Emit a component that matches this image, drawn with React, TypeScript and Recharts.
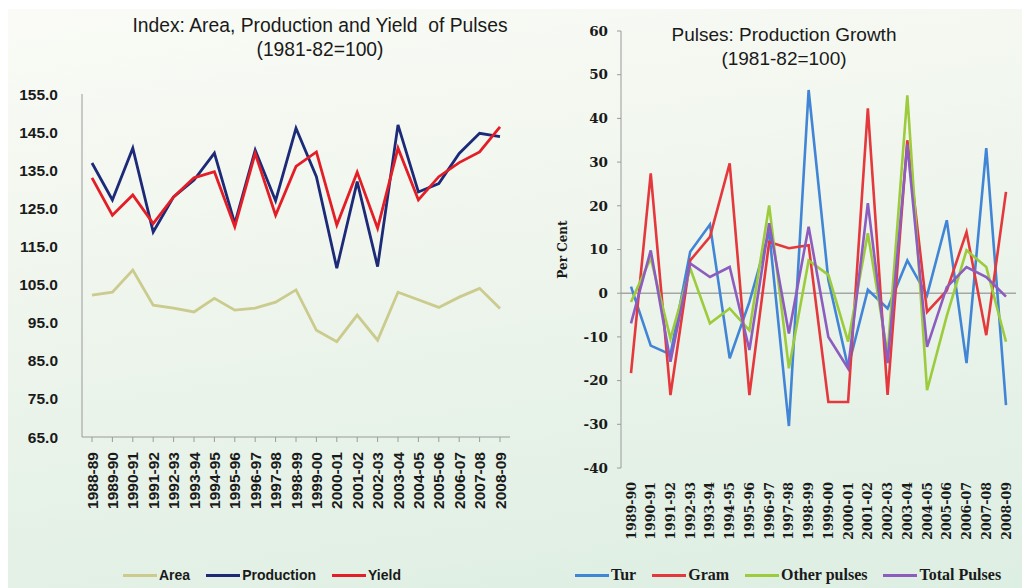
import { LineChart, Line, XAxis, YAxis, ReferenceLine } from "recharts"

// ---- left chart: index numbers (1981-82=100)
const indexYears = [
    "1988-89", "1989-90", "1990-91", "1991-92", "1992-93", "1993-94", "1994-95",
    "1995-96", "1996-97", "1997-98", "1998-99", "1999-00", "2000-01", "2001-02",
    "2002-03", "2003-04", "2004-05", "2005-06", "2006-07", "2007-08", "2008-09",
]
const areaIdx = [102.2, 103, 108.8, 99.6, 98.8, 97.8, 101.4, 98.3, 98.8, 100.4, 103.6, 93, 90, 97, 90.4, 103, 101, 99, 101.7, 104, 98.7]
const productionIdx = [136.9, 127.2, 140.8, 118.8, 128, 132.4, 139.5, 121, 140.3, 127, 146, 133.3, 109.3, 132, 109.7, 146.9, 129.3, 131.5, 139.4, 144.7, 143.8]
const yieldIdx = [133, 123.2, 128.5, 121, 128, 133, 134.6, 120.2, 139.4, 123.2, 136, 139.8, 120.6, 134.5, 119.8, 140.8, 127.2, 133.3, 137, 139.8, 146.4]
const indexTicks = [65, 75, 85, 95, 105, 115, 125, 135, 145, 155]

// ---- right chart: production growth, per cent
const growthYears = [
    "1989-90", "1990-91", "1991-92", "1992-93", "1993-94", "1994-95", "1995-96",
    "1996-97", "1997-98", "1998-99", "1999-00", "2000-01", "2001-02", "2002-03",
    "2003-04", "2004-05", "2005-06", "2006-07", "2007-08", "2008-09",
]
const turGrowth = [1.5, -12, -14, 9.5, 15.7, -14.9, -2, 14, -30.4, 46.5, 3, -17, 0.8, -3.5, 7.5, -0.5, 16.7, -16, 33.2, -25.6]
const gramGrowth = [-18.3, 27.4, -23.3, 7.5, 12.9, 29.7, -23.3, 11.7, 10.3, 11, -24.9, -24.9, 42.3, -23.3, 35, -4.3, 0.6, 14, -9.6, 23.2]
const otherGrowth = [-2, 8, -10.4, 5.7, -6.9, -3.5, -8.5, 20.1, -17.2, 7.5, 4.2, -11.1, 13.7, -14, 45.3, -22.2, -5.2, 9.8, 6, -11.1]
const totalGrowth = [-6.9, 9.8, -15.7, 6.8, 3.7, 6, -13, 16, -9.2, 15.2, -10, -17.2, 20.6, -16, 34, -12.3, 1.4, 6, 3.7, -0.8]
const growthTicks = [-40, -30, -20, -10, 0, 10, 20, 30, 40, 50, 60]

const indexSeries = [
    { key: "area", name: "Area", color: "#cacb8c" },
    { key: "production", name: "Production", color: "#1c2a78" },
    { key: "yield", name: "Yield", color: "#e41e26" },
]
const growthSeries = [
    { key: "tur", name: "Tur", color: "#4185d6" },
    { key: "gram", name: "Gram", color: "#e5383c" },
    { key: "other", name: "Other pulses", color: "#9ccb3c" },
    { key: "total", name: "Total Pulses", color: "#8c5cbf" },
]

const indexData = indexYears.map((year, i) => ({
    year,
    area: areaIdx[i],
    production: productionIdx[i],
    yield: yieldIdx[i],
}))
const growthData = growthYears.map((year, i) => ({
    year,
    tur: turGrowth[i],
    gram: gramGrowth[i],
    other: otherGrowth[i],
    total: totalGrowth[i],
}))

const SANS = "'Liberation Sans', Arial, sans-serif"
const SERIF = "'DejaVu Serif', serif"
const LSERIF = "'Liberation Serif', serif"

const VerticalTick = ({ x, y, payload, gap, font, size }: any) => (
    <g transform={`translate(${x},${y})`}>
        <text
            x={-gap}
            y={0}
            dy="0.36em"
            transform="rotate(-90)"
            textAnchor="end"
            fill="#1a1a1a"
            fontFamily={font}
            fontSize={size}
            fontWeight="bold"
        >
            {payload.value}
        </text>
    </g>
)

const PerCentLabel = ({ viewBox }: any) => {
    const cx = 43
    const cy = viewBox.y + viewBox.height / 2
    return (
        <text
            x={cx}
            y={cy}
            transform={`rotate(-90, ${cx}, ${cy})`}
            textAnchor="middle"
            dominantBaseline="central"
            fontFamily={SERIF}
            fontSize={12}
            fontWeight="bold"
            fill="#1a1a1a"
        >
            Per Cent
        </text>
    )
}

const LegendRow = ({ items, left, font, size, gap }: any) => (
    <div style={{ position: "absolute", left, top: 565, display: "flex", alignItems: "center", height: 20 }}>
        {items.map((s: any, i: number) => (
            <div key={s.key} style={{ display: "flex", alignItems: "center", marginLeft: i ? gap : 0 }}>
                <div style={{ width: 34, height: 3, background: s.color }} />
                <span style={{ marginLeft: 2, fontFamily: font, fontSize: size, fontWeight: "bold", color: "#1a1a1a", whiteSpace: "nowrap" }}>
                    {s.name}
                </span>
            </div>
        ))}
    </div>
)

const titleStyle: React.CSSProperties = {
    position: "absolute",
    fontFamily: SANS,
    fontSize: 19,
    color: "#1a1a1a",
    textAlign: "center",
    whiteSpace: "pre",
    lineHeight: "24px",
    transform: "translateX(-50%)",
}

export default function App() {
    return (
        <div style={{ position: "absolute", left: 0, top: 0, width: 1022, height: 588, background: "#ffffff", overflow: "hidden" }}>
            <div
                style={{
                    position: "absolute",
                    left: 8,
                    top: 9,
                    right: 0,
                    bottom: 0,
                    background: "linear-gradient(172deg, #fafbf6 0%, #eef5ec 45%, #ddeee2 100%)",
                }}
            />

            {/* left: index of area, production and yield */}
            <div style={{ ...titleStyle, left: 320, fontSize: 19.3, top: 14 }}>
                {"Index: Area, Production and Yield  of Pulses\n(1981-82=100)"}
            </div>
            <div style={{ position: "absolute", left: 0, top: 0 }}>
                <LineChart width={520} height={588} data={indexData} margin={{ top: 94, right: 10, bottom: 71, left: 0 }}>
                    <YAxis
                        width={82}
                        domain={[65, 155]}
                        ticks={indexTicks}
                        tickFormatter={(v: number) => v.toFixed(1)}
                        axisLine={{ stroke: "#9a9a9a" }}
                        tickLine={false}
                        tickMargin={18}
                        tick={{ fill: "#1a1a1a", fontFamily: SANS, fontSize: 15.5, fontWeight: "bold" }}
                    />
                    <XAxis
                        dataKey="year"
                        interval={0}
                        height={80}
                        padding={{ left: 10, right: 10 }}
                        axisLine={{ stroke: "#9a9a9a" }}
                        tickLine={{ stroke: "#9a9a9a" }}
                        tickSize={5}
                        tickMargin={0}
                        tick={<VerticalTick gap={10} font={SANS} size={15.5} />}
                    />
                    {indexSeries.map((s) => (
                        <Line
                            key={s.key}
                            dataKey={s.key}
                            name={s.name}
                            stroke={s.color}
                            strokeWidth={2.8}
                            dot={false}
                            type="linear"
                            isAnimationActive={false}
                        />
                    ))}
                </LineChart>
            </div>
            <LegendRow items={indexSeries} left={123} font={SANS} size={14} gap={16} />

            {/* right: production growth */}
            <div style={{ position: "absolute", left: 520, top: 0 }}>
                <LineChart width={502} height={588} data={growthData} margin={{ top: 31, right: 6, bottom: 40, left: 0 }}>
                    <YAxis
                        width={101}
                        domain={[-40, 60]}
                        ticks={growthTicks}
                        axisLine={{ stroke: "#9a9a9a" }}
                        tickLine={{ stroke: "#9a9a9a" }}
                        tickSize={4}
                        tickMargin={9}
                        tick={{ fill: "#1a1a1a", fontFamily: SERIF, fontSize: 13.5, fontWeight: "bold" }}
                        label={<PerCentLabel />}
                    />
                    <XAxis
                        dataKey="year"
                        interval={0}
                        height={80}
                        padding={{ left: 10, right: 10 }}
                        axisLine={false}
                        tickLine={false}
                        tickSize={0}
                        tickMargin={0}
                        tick={<VerticalTick gap={14} font={SERIF} size={12.6} />}
                    />
                    <ReferenceLine y={0} stroke="#a6a6a6" strokeWidth={1.5} />
                    {growthSeries.map((s) => (
                        <Line
                            key={s.key}
                            dataKey={s.key}
                            name={s.name}
                            stroke={s.color}
                            strokeWidth={2.6}
                            dot={false}
                            type="linear"
                            isAnimationActive={false}
                        />
                    ))}
                </LineChart>
            </div>
            <div style={{ ...titleStyle, left: 784, top: 23 }}>
                {"Pulses: Production Growth\n(1981-82=100)"}
            </div>
            <LegendRow items={growthSeries} left={575} font={LSERIF} size={16} gap={16} />
        </div>
    )
}
